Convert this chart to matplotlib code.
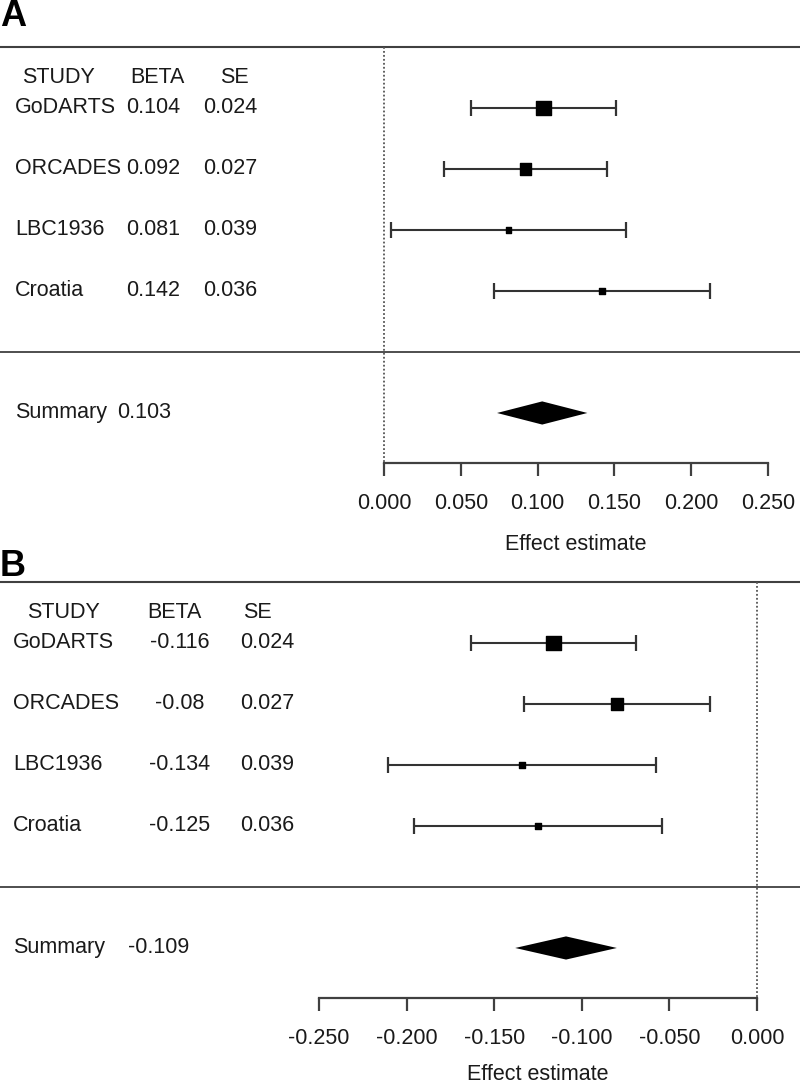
"""
Forest plots of per-study effect estimates (panels A and B) with summary diamonds.
"""
import numpy as np
import matplotlib
matplotlib.use("Agg")
import matplotlib.pyplot as plt
from matplotlib.transforms import blended_transform_factory

plt.rcParams["font.family"] = ["Liberation Sans", "DejaVu Sans"]

STUDIES = ["GoDARTS", "ORCADES", "LBC1936", "Croatia"]

BETA_A = [0.104, 0.092, 0.081, 0.142]
SE_A = [0.024, 0.027, 0.039, 0.036]
BETA_A_TXT = ["0.104", "0.092", "0.081", "0.142"]
SE_A_TXT = ["0.024", "0.027", "0.039", "0.036"]
SUMMARY_A = 0.103
SUMMARY_SE_A = 0.0150
TICKS_A = [0.000, 0.050, 0.100, 0.150, 0.200, 0.250]

BETA_B = [-0.116, -0.080, -0.134, -0.125]
SE_B = [0.024, 0.027, 0.039, 0.036]
BETA_B_TXT = ["-0.116", "-0.08", "-0.134", "-0.125"]
SE_B_TXT = ["0.024", "0.027", "0.039", "0.036"]
SUMMARY_B = -0.109
SUMMARY_SE_B = 0.0148
TICKS_B = [-0.250, -0.200, -0.150, -0.100, -0.050, 0.000]

W, H = 800, 1090
FS = 15.5
LINE = "#404040"
TXT = "#1a1a1a"


def panel(fig, top_px, bot_px, x0_px, ppu, letter, letter_px, label_px, betas,
          ses, beta_txt, se_txt, summ, summ_se, ticks, cols, hdr_cols,
          summ_cols, beta_ha):
    ax = fig.add_axes([0, 1 - bot_px / H, 1, (bot_px - top_px) / H])
    ax.set_xlim(-x0_px / ppu, (W - x0_px) / ppu)
    y_axis = 5.82
    ax.set_ylim(y_axis, -1.0)
    rows = np.arange(len(betas))

    for s in ("top", "left", "right"):
        ax.spines[s].set_visible(False)
    ax.spines["bottom"].set_bounds(ticks[0], ticks[-1])
    ax.spines["bottom"].set_color(LINE)
    ax.spines["bottom"].set_linewidth(1.6)
    ax.set_yticks([])
    ax.set_xticks(ticks)
    ax.set_xticklabels([f"{t:.3f}" for t in ticks], fontsize=FS, color=TXT)
    ax.tick_params(axis="x", length=9.5, width=1.6, color=LINE, pad=12)
    ax.set_xlabel("Effect estimate", fontsize=FS, color=TXT)
    # centre the label under the drawn axis
    xc = (x0_px + ticks[0] * ppu + x0_px + ticks[-1] * ppu) / 2
    ax.xaxis.set_label_coords(xc / W, -(label_px - bot_px) / (bot_px - top_px))
    ax.xaxis.label.set_va("center")

    # frame lines and null line
    ax.axhline(-1.0, color=LINE, lw=1.5, clip_on=False)
    ax.axhline(4.0, color=LINE, lw=1.3)
    ax.plot([0, 0], [-1.0, y_axis], ls=(0, (1, 1.2)), color="#555555", lw=1.3,
            clip_on=False)

    # study CIs and boxes
    betas = np.asarray(betas)
    ses = np.asarray(ses)
    ax.errorbar(betas, rows, xerr=1.96 * ses, fmt="none", ecolor="#333333",
                elinewidth=1.5, capsize=5.8, capthick=1.6)
    wts = 1 / ses ** 2
    side = 10.5 * wts / wts.max()
    ax.scatter(betas, rows, s=side ** 2, marker="s", color="black", zorder=3)

    # summary diamond
    lo, hi = summ - 1.96 * summ_se, summ + 1.96 * summ_se
    h = 0.19
    ax.fill([lo, summ, hi, summ], [5, 5 - h, 5, 5 + h], color="black", lw=0)

    # table text
    tr = blended_transform_factory(ax.transAxes, ax.transData)
    for name, xx in zip(["STUDY", "BETA", "SE"], hdr_cols):
        ax.text(xx / W, -0.5, name, transform=tr, fontsize=FS, va="center",
                color=TXT)
    for r, nm, bt, st in zip(rows, STUDIES, beta_txt, se_txt):
        ax.text(cols[0] / W, r, nm, transform=tr, fontsize=FS, va="center",
                color=TXT)
        ax.text(cols[1] / W, r, bt, transform=tr, fontsize=FS, va="center",
                ha=beta_ha, color=TXT)
        ax.text(cols[2] / W, r, st, transform=tr, fontsize=FS, va="center",
                color=TXT)
    ax.text(summ_cols[0] / W, 5, "Summary", transform=tr, fontsize=FS,
            va="center", color=TXT)
    ax.text(summ_cols[1] / W, 5, f"{summ:.3f}", transform=tr, fontsize=FS,
            va="center", color=TXT)

    fig.text(0.0, 1 - letter_px / H, letter, fontsize=26, fontweight="bold",
             va="center", ha="left")
    return ax


fig = plt.figure(figsize=(W / 100, H / 100), dpi=100)

panel(fig, 47, 463, 384, 1536, "A", 16, 545, BETA_A, SE_A, BETA_A_TXT,
      SE_A_TXT, SUMMARY_A, SUMMARY_SE_A, TICKS_A,
      cols=(15, 126, 203), hdr_cols=(22, 130, 220), summ_cols=(15, 117),
      beta_ha="left")

panel(fig, 582, 998, 757, 1752, "B", 566, 1075, BETA_B, SE_B, BETA_B_TXT,
      SE_B_TXT, SUMMARY_B, SUMMARY_SE_B, TICKS_B,
      cols=(13, 180, 240), hdr_cols=(27, 147, 243), summ_cols=(13, 128),
      beta_ha="center")

fig.savefig("out.png", dpi=100, facecolor="white")
